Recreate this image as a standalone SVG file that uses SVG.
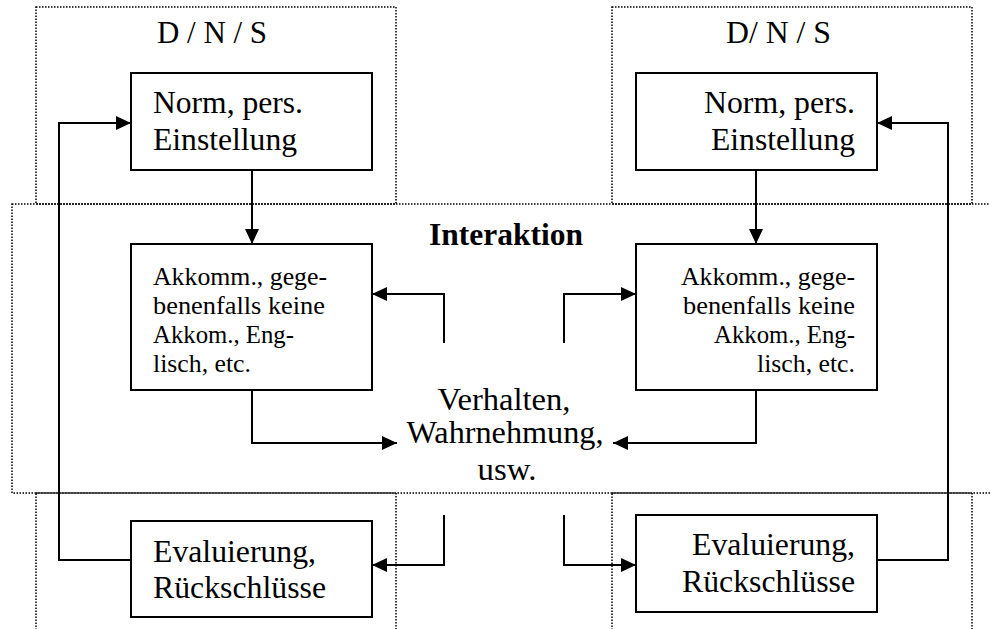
<svg xmlns="http://www.w3.org/2000/svg" width="990" height="629" viewBox="0 0 990 629">
  <style>
    .zone { fill: none; stroke: #000; stroke-width: 1.5; stroke-dasharray: 1.5 1.5; }
    .box { fill: #fff; stroke: #000; stroke-width: 2; }
    .wire { fill: none; stroke: #000; stroke-width: 2; }
    .lbl { font-family: Liberation Serif, Tinos, Times New Roman, serif; fill: #000; }
    .big { font-size: 31px; }
    .small { font-size: 26px; }
    .bold { font-weight: bold; }
  </style>
  <defs>
    <marker id="arrow" markerUnits="userSpaceOnUse" markerWidth="15" markerHeight="14" refX="15" refY="7" orient="auto">
      <path d="M0,0 L15,7 L0,14 z" fill="#000"/>
    </marker>
  </defs>

  <rect width="990" height="629" fill="#fff"/>

  <!-- dotted zones -->
  <g id="zones">
    <rect class="zone" x="36" y="7" width="360" height="197"/>
    <rect class="zone" x="612" y="7" width="360" height="197"/>
    <rect class="zone" x="12" y="204" width="1000" height="289"/>
    <rect class="zone" x="36" y="493" width="360" height="160"/>
    <rect class="zone" x="612" y="493" width="360" height="160"/>
  </g>

  <!-- connectors -->
  <g id="connectors">
    <polyline class="wire" points="131,560 59,560 59,123 131,123" marker-end="url(#arrow)"/>
    <polyline class="wire" points="252,170 252,244" marker-end="url(#arrow)"/>
    <polyline class="wire" points="444,343 444,294 372,294" marker-end="url(#arrow)"/>
    <polyline class="wire" points="252,390 252,443 397,443" marker-end="url(#arrow)"/>
    <polyline class="wire" points="564,343 564,294 636,294" marker-end="url(#arrow)"/>
    <polyline class="wire" points="756,390 756,443 613,443" marker-end="url(#arrow)"/>
    <polyline class="wire" points="444,515 444,565 372,565" marker-end="url(#arrow)"/>
    <polyline class="wire" points="564,515 564,565 636,565" marker-end="url(#arrow)"/>
    <polyline class="wire" points="877,560 948,560 948,123 877,123" marker-end="url(#arrow)"/>
    <polyline class="wire" points="756,170 756,244" marker-end="url(#arrow)"/>
  </g>

  <g class="lbl">
    <!-- zone labels -->
    <text class="big" x="157" y="43" textLength="110" lengthAdjust="spacingAndGlyphs">D / N / S</text>
    <text class="big" x="726" y="43" textLength="105" lengthAdjust="spacingAndGlyphs">D/ N / S</text>
    <text class="big bold" x="429" y="245" textLength="154" lengthAdjust="spacingAndGlyphs">Interaktion</text>

    <!-- left side -->
    <g id="norm-left">
      <rect class="box" x="131" y="73" width="241" height="97"/>
      <text class="big" x="153" y="113" textLength="150" lengthAdjust="spacingAndGlyphs">Norm, pers.</text>
      <text class="big" x="153" y="150" textLength="144" lengthAdjust="spacingAndGlyphs">Einstellung</text>
    </g>
    <g id="akk-left">
      <rect class="box" x="131" y="244" width="241" height="146"/>
      <text class="small" x="153" y="285" textLength="174" lengthAdjust="spacingAndGlyphs">Akkomm., gege-</text>
      <text class="small" x="153" y="314" textLength="172" lengthAdjust="spacingAndGlyphs">benenfalls keine</text>
      <text class="small" x="153" y="343" textLength="141" lengthAdjust="spacingAndGlyphs">Akkom., Eng-</text>
      <text class="small" x="153" y="372" textLength="98" lengthAdjust="spacingAndGlyphs">lisch, etc.</text>
    </g>
    <g id="eval-left">
      <rect class="box" x="131" y="521" width="241" height="96"/>
      <text class="big" x="153" y="562" textLength="163" lengthAdjust="spacingAndGlyphs">Evaluierung,</text>
      <text class="big" x="153" y="598" textLength="173" lengthAdjust="spacingAndGlyphs">Rückschlüsse</text>
    </g>

    <!-- centre -->
    <g id="verhalten" text-anchor="middle">
      <text class="big" x="504" y="410" textLength="133" lengthAdjust="spacingAndGlyphs">Verhalten,</text>
      <text class="big" x="505" y="443" textLength="197" lengthAdjust="spacingAndGlyphs">Wahrnehmung,</text>
      <text class="big" x="507" y="480" textLength="59" lengthAdjust="spacingAndGlyphs">usw.</text>
    </g>

    <!-- right side, text set flush right -->
    <g id="norm-right" text-anchor="end">
      <rect class="box" x="636" y="73" width="241" height="97"/>
      <text class="big" x="855" y="113" textLength="151" lengthAdjust="spacingAndGlyphs">Norm, pers.</text>
      <text class="big" x="855" y="150" textLength="144" lengthAdjust="spacingAndGlyphs">Einstellung</text>
    </g>
    <g id="akk-right" text-anchor="end">
      <rect class="box" x="636" y="244" width="241" height="146"/>
      <text class="small" x="855" y="285" textLength="174" lengthAdjust="spacingAndGlyphs">Akkomm., gege-</text>
      <text class="small" x="855" y="314" textLength="172" lengthAdjust="spacingAndGlyphs">benenfalls keine</text>
      <text class="small" x="855" y="343" textLength="141" lengthAdjust="spacingAndGlyphs">Akkom., Eng-</text>
      <text class="small" x="855" y="372" textLength="98" lengthAdjust="spacingAndGlyphs">lisch, etc.</text>
    </g>
    <g id="eval-right" text-anchor="end">
      <rect class="box" x="636" y="515" width="241" height="97"/>
      <text class="big" x="855" y="555" textLength="163" lengthAdjust="spacingAndGlyphs">Evaluierung,</text>
      <text class="big" x="855" y="592" textLength="173" lengthAdjust="spacingAndGlyphs">Rückschlüsse</text>
    </g>
  </g>
</svg>
